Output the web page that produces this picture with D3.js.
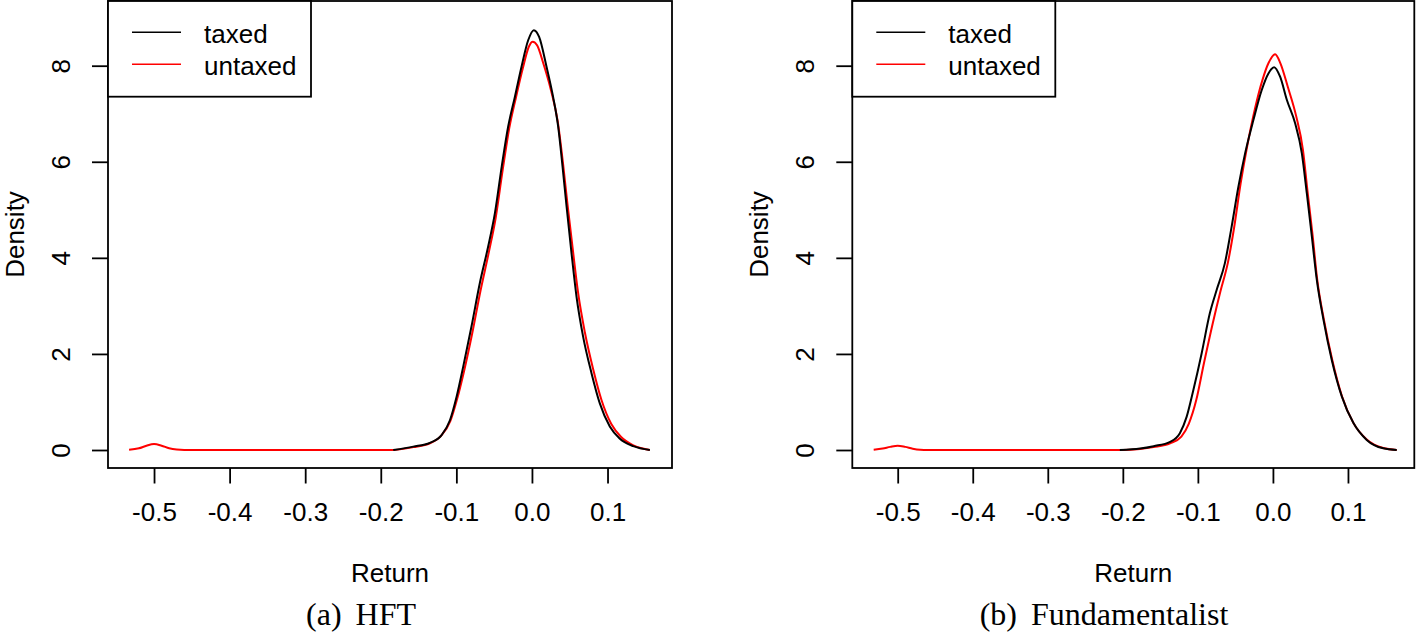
<!DOCTYPE html>
<html>
<head>
<meta charset="utf-8">
<script src="https://cdn.jsdelivr.net/npm/d3@7"></script>
<style>
  html, body { margin: 0; padding: 0; background: #fff; }
  svg { display: block; }
</style>
</head>
<body>
<svg id="chart" width="1416" height="634"></svg>
<script>
// ---------------- DATA ----------------
const xTicks = [-0.5, -0.4, -0.3, -0.2, -0.1, 0.0, 0.1];
const xTickLabels = ["-0.5", "-0.4", "-0.3", "-0.2", "-0.1", "0.0", "0.1"];
const yTicks = [0, 2, 4, 6, 8];
const yTickLabels = ["0", "2", "4", "6", "8"];
const seriesNames = ["taxed", "untaxed"];
const panelCaptions = [["(a)", "HFT"], ["(b)", "Fundamentalist"]];

// (a) HFT — taxed (black)
const hftTaxed = [
  [-0.1835, 0], [-0.157, 0.07], [-0.135, 0.15], [-0.1195, 0.31], [-0.1085, 0.62],
  [-0.0997, 1.11], [-0.091, 1.73], [-0.080, 2.57], [-0.069, 3.47], [-0.058, 4.23],
  [-0.049, 4.93], [-0.040, 5.90], [-0.0315, 6.73], [-0.0226, 7.35], [-0.0138, 7.98],
  [-0.005, 8.53], [0.0025, 8.74], [0.0095, 8.60], [0.0193, 7.98], [0.028, 7.35],
  [0.0347, 6.73], [0.0405, 5.90], [0.0458, 5.07], [0.0524, 4.09], [0.059, 3.19],
  [0.0677, 2.36], [0.0788, 1.60], [0.0898, 0.97], [0.103, 0.49], [0.116, 0.24],
  [0.134, 0.08], [0.156, 0]
];
// (a) HFT — untaxed (red)
const hftUntaxed = [
  [-0.533, 0.005], [-0.52, 0.035], [-0.51, 0.09], [-0.50, 0.125], [-0.49, 0.09],
  [-0.48, 0.035], [-0.47, 0.008], [-0.46, 0], [-0.30, 0], [-0.185, 0],
  [-0.157, 0.06], [-0.135, 0.14], [-0.12, 0.30], [-0.108, 0.60], [-0.099, 1.06],
  [-0.090, 1.63], [-0.079, 2.43], [-0.068, 3.32], [-0.057, 4.12], [-0.048, 4.83],
  [-0.039, 5.80], [-0.030, 6.70], [-0.021, 7.35], [-0.012, 7.95], [-0.004, 8.40],
  [0.001, 8.50], [0.007, 8.42], [0.015, 8.05], [0.025, 7.50], [0.034, 6.85],
  [0.041, 5.98], [0.047, 5.12], [0.054, 4.18], [0.061, 3.28], [0.070, 2.45],
  [0.081, 1.68], [0.092, 1.04], [0.105, 0.54], [0.118, 0.27], [0.135, 0.09],
  [0.156, 0]
];
// (b) Fundamentalist — taxed (black)
const fundTaxed = [
  [-0.204, 0], [-0.177, 0.03], [-0.159, 0.08], [-0.137, 0.17], [-0.124, 0.35],
  [-0.115, 0.69], [-0.106, 1.25], [-0.095, 2.01], [-0.084, 2.85], [-0.075, 3.33],
  [-0.064, 3.89], [-0.055, 4.65], [-0.046, 5.48], [-0.037, 6.18], [-0.026, 6.87],
  [-0.015, 7.49], [-0.006, 7.84], [0.0016, 7.97], [0.0096, 7.77], [0.0185, 7.29],
  [0.0296, 6.80], [0.0385, 6.18], [0.0452, 5.34], [0.0519, 4.44], [0.0585, 3.54],
  [0.0674, 2.71], [0.0785, 1.87], [0.0919, 1.11], [0.1073, 0.56], [0.125, 0.21],
  [0.147, 0.035], [0.165, 0]
];
// (b) Fundamentalist — untaxed (red)
const fundUntaxed = [
  [-0.532, 0.004], [-0.52, 0.03], [-0.51, 0.065], [-0.50, 0.09], [-0.49, 0.065],
  [-0.48, 0.028], [-0.47, 0.006], [-0.46, 0], [-0.30, 0], [-0.20, 0],
  [-0.177, 0.02], [-0.159, 0.06], [-0.137, 0.14], [-0.122, 0.28], [-0.112, 0.55],
  [-0.102, 1.05], [-0.092, 1.80], [-0.080, 2.65], [-0.070, 3.30], [-0.060, 3.90],
  [-0.052, 4.60], [-0.043, 5.55], [-0.034, 6.35], [-0.024, 7.10], [-0.014, 7.70],
  [-0.006, 8.05], [0.003, 8.24], [0.010, 8.05], [0.020, 7.55], [0.031, 6.95],
  [0.040, 6.25], [0.046, 5.40], [0.053, 4.45], [0.059, 3.55], [0.068, 2.71],
  [0.079, 1.88], [0.092, 1.12], [0.107, 0.57], [0.125, 0.22], [0.147, 0.04],
  [0.165, 0]
];

// ---------------- LAYOUT ----------------
const panels = [
  { left: 108, right: 672, xDomain: [-0.5609, 0.1853], taxed: hftTaxed, untaxed: hftUntaxed,
    caption: panelCaptions[0], captionX: 361 },
  { left: 852.3, right: 1414.3, xDomain: [-0.5605, 0.1884], taxed: fundTaxed, untaxed: fundUntaxed,
    caption: panelCaptions[1], captionX: 1104 }
];
const plotTop = 1, plotBottom = 468;
const sansFont = "'Liberation Sans', Arial, Helvetica, sans-serif";
const serifFont = "'Liberation Serif', 'Times New Roman', serif";
const fs = 26;

const svg = d3.select("#chart");

panels.forEach(p => {
  const g = svg.append("g");
  const x = d3.scaleLinear().domain(p.xDomain).range([p.left, p.right]);
  const y = d3.scaleLinear().domain([0, 8]).range([450, 65.7]);

  // curves: red first, black on top
  const line = d3.line().x(d => x(d[0])).y(d => y(d[1])).curve(d3.curveMonotoneX);
  g.append("path").datum(p.untaxed).attr("d", line)
    .attr("fill", "none").attr("stroke", "#ff0000").attr("stroke-width", 2)
    .attr("stroke-linejoin", "round");
  g.append("path").datum(p.taxed).attr("d", line)
    .attr("fill", "none").attr("stroke", "#000").attr("stroke-width", 2)
    .attr("stroke-linejoin", "round");

  // plot box
  g.append("rect").attr("x", p.left).attr("y", plotTop)
    .attr("width", p.right - p.left).attr("height", plotBottom - plotTop)
    .attr("fill", "none").attr("stroke", "#000").attr("stroke-width", 1.8);

  // x axis
  const xAxis = d3.axisBottom(x).tickValues(xTicks)
    .tickFormat((d, i) => xTickLabels[i]).tickSize(15.5).tickPadding(0);
  const gx = g.append("g").attr("transform", `translate(0,${plotBottom})`).call(xAxis);
  gx.select(".domain").remove();
  gx.selectAll(".tick line").attr("stroke", "#000").attr("stroke-width", 1.8);
  gx.selectAll(".tick text").attr("y", 53).attr("dy", null)
    .attr("font-family", sansFont).attr("font-size", fs).attr("fill", "#000");

  // y axis
  const yAxis = d3.axisLeft(y).tickValues(yTicks)
    .tickFormat((d, i) => yTickLabels[i]).tickSize(16).tickPadding(0);
  const gy = g.append("g").attr("transform", `translate(${p.left},0)`).call(yAxis);
  gy.select(".domain").remove();
  gy.selectAll(".tick line").attr("stroke", "#000").attr("stroke-width", 1.8);
  gy.selectAll(".tick text")
    .attr("x", null).attr("dy", null)
    .attr("transform", "translate(-38,0) rotate(-90)")
    .attr("text-anchor", "middle")
    .attr("font-family", sansFont).attr("font-size", fs).attr("fill", "#000");

  // axis titles
  g.append("text").attr("x", (p.left + p.right) / 2).attr("y", 582)
    .attr("text-anchor", "middle").attr("font-family", sansFont).attr("font-size", fs)
    .text("Return");
  g.append("text")
    .attr("transform", `translate(${p.left - 84},${(plotTop + plotBottom) / 2}) rotate(-90)`)
    .attr("text-anchor", "middle").attr("font-family", sansFont).attr("font-size", fs)
    .text("Density");

  // legend
  const lg = g.append("g");
  lg.append("rect").attr("x", p.left).attr("y", plotTop)
    .attr("width", 203).attr("height", 95.7)
    .attr("fill", "#fff").attr("stroke", "#000").attr("stroke-width", 1.8);
  const legendColors = ["#000", "#ff0000"];
  seriesNames.forEach((name, i) => {
    const ly = 32.3 + i * 32;
    lg.append("line").attr("x1", p.left + 24).attr("x2", p.left + 73)
      .attr("y1", ly).attr("y2", ly)
      .attr("stroke", legendColors[i]).attr("stroke-width", 1.6);
    lg.append("text").attr("x", p.left + 96).attr("y", ly + 10.5)
      .attr("font-family", sansFont).attr("font-size", fs).text(name);
  });

  // caption
  const cap = g.append("text").attr("x", p.captionX).attr("y", 625)
    .attr("text-anchor", "middle").attr("font-family", serifFont).attr("font-size", 32);
  cap.append("tspan").text(p.caption[0]);
  cap.append("tspan").attr("dx", 14).text(p.caption[1]);
});
</script>
</body>
</html>
